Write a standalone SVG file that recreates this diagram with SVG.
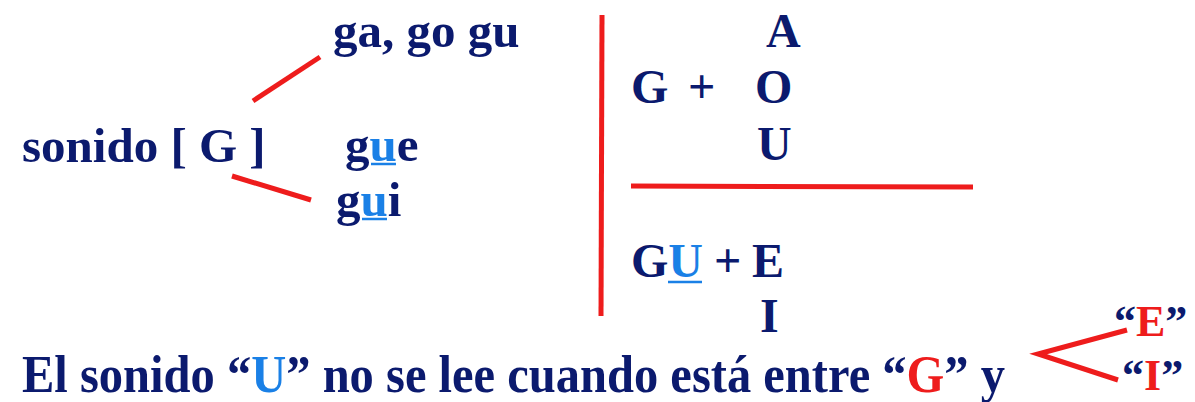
<svg xmlns="http://www.w3.org/2000/svg" width="1195" height="402" viewBox="0 0 1195 402">
<style>
text{font-family:"Liberation Serif","Times New Roman",serif;font-weight:bold;fill:#0b1a6e}
.b{fill:#1a80e6}
.r{fill:#ee1c1c}
.rl{stroke:#ee1c1c;stroke-width:5;stroke-linecap:butt;fill:none}
.ul{stroke:#1a80e6;stroke-width:2.5}
</style>
<rect width="1195" height="402" fill="#fff"/>
<g id="connectors">
<line class="rl" x1="253" y1="101" x2="320" y2="57"/>
<line class="rl" x1="232" y1="176" x2="311" y2="200"/>
<line class="rl" x1="602" y1="15" x2="601" y2="316"/>
<line class="rl" x1="631" y1="186" x2="973" y2="187"/>
<polyline class="rl" points="1127,330 1038,354 1118,380"/>
</g>
<g id="sonido"><text x="22" y="162" font-size="49">sonido [ G ]</text></g>
<g id="ga"><text x="333" y="47" font-size="49">ga, go gu</text></g>
<g id="gue"><text x="345" y="161" font-size="49">g<tspan class="b">u</tspan>e</text><line class="ul" x1="371" y1="164" x2="396" y2="164"/></g>
<g id="gui"><text x="336" y="216" font-size="49">g<tspan class="b">u</tspan>i</text><line class="ul" x1="362" y1="219" x2="387" y2="219"/></g>
<g id="gao">
<text x="766" y="47" font-size="48">A</text>
<text x="631" y="103" font-size="48">G</text>
<text x="688" y="103" font-size="48">+</text>
<text x="755" y="103" font-size="48">O</text>
<text x="757" y="160" font-size="48">U</text>
</g>
<g id="gue2">
<text x="631" y="277" font-size="48">G<tspan class="b">U</tspan></text>
<line class="ul" x1="668" y1="282" x2="702" y2="282"/>
<text x="714" y="277" font-size="48">+</text>
<text x="752" y="277" font-size="48">E</text>
<text x="760" y="332" font-size="48">I</text>
</g>
<g id="rule"><text x="22" y="392" font-size="52" textLength="983" lengthAdjust="spacingAndGlyphs">El sonido “<tspan class="b">U</tspan>” no se lee cuando está entre “<tspan class="r">G</tspan>” y</text></g>
<g id="ei">
<text x="1114" y="336" font-size="44">“<tspan class="r">E</tspan>”</text>
<text x="1122" y="390" font-size="44">“<tspan class="r">I</tspan>”</text>
</g>
</svg>
